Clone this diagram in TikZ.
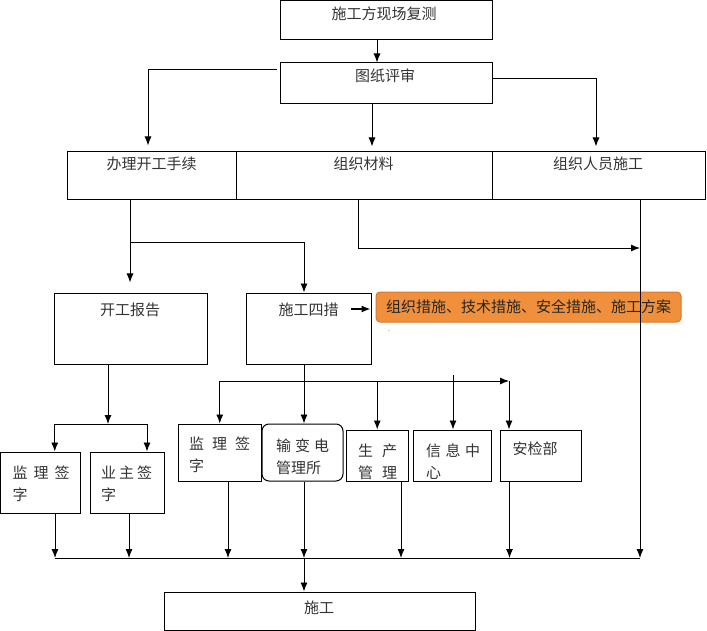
\documentclass[tikz,border=0pt]{standalone}
\usepackage{fontspec}
\newfontfamily\cjk{Noto Sans CJK SC}
\usetikzlibrary{arrows.meta}
\definecolor{cuo}{HTML}{F0903C}
\definecolor{cuoline}{HTML}{D9782A}

\begin{document}
\begin{tikzpicture}[x=1pt,y=-1pt,
    box/.style={draw, line width=1pt, inner sep=0pt},
    txt/.style={inner sep=0pt, text=black!80, font=\cjk\fontsize{15}{22}\selectfont},
    arr/.style={line width=0.9pt, -{Latex[length=9pt,width=7pt]}},
    ln/.style={line width=0.9pt}]
  \useasboundingbox (0,0) rectangle (707,631);
  % boxes
  \node[box, minimum width=212pt, minimum height=39pt] (fc) at (386,20.5) {};
  \node[box, minimum width=212pt, minimum height=41pt] (ps) at (386,83.5) {};
  \node[box, minimum width=169pt, minimum height=48pt] (bl) at (151.5,176) {};
  \node[box, minimum width=256pt, minimum height=48pt] (cl) at (364,176) {};
  \node[box, minimum width=213pt, minimum height=48pt] (ry) at (598.5,176) {};
  \node[box, minimum width=152.5pt, minimum height=71pt] (kb) at (130.75,328.5) {};
  \node[box, minimum width=125pt, minimum height=71pt] (sc) at (309,328.5) {};
  \node[box, draw=cuoline, fill=cuo, rounded corners=4pt, minimum width=305pt,
    minimum height=30pt, txt, text=black!85] (cs) at (528.5,307) {组织措施、技术措施、安全措施、施工方案};
  \node[box, minimum width=79.5pt, minimum height=61pt] (jl) at (40.25,482.5) {};
  \node[box, minimum width=74pt, minimum height=61pt] (yz) at (127,482.5) {};
  \node[box, minimum width=83.5pt, minimum height=57pt] (jl2) at (219.75,452.5) {};
  \node[box, rounded corners=7pt, minimum width=81pt, minimum height=57pt] (sb) at (302.5,452.5) {};
  \node[box, minimum width=62.5pt, minimum height=51pt] (scgl) at (377.25,455.5) {};
  \node[box, minimum width=78pt, minimum height=51pt] (xx) at (452.5,455.5) {};
  \node[box, minimum width=81pt, minimum height=51pt] (aj) at (541,455.5) {};
  \node[box, minimum width=311.5pt, minimum height=38pt] (sg) at (319.75,611) {};
  % texts
  \node[txt] (fct) at (384,14) {施工方现场复测};
  \node[txt] (pst) at (385,76) {图纸评审};
  \node[txt] (blt) at (151.5,164) {办理开工手续};
  \node[txt] (clt) at (363.5,164) {组织材料};
  \node[txt] (ryt) at (598,164) {组织人员施工};
  \node[txt] (kbt) at (130,310) {开工报告};
  \node[txt] (sct) at (308.5,310) {施工四措};
  \node[txt] (sgt) at (319,608) {施工};
  \node[txt, anchor=north west, align=left] (jlt) at (12.5,465.5) {监\hspace{6pt}理\hspace{6pt}签\\字};
  \node[txt, anchor=north west, align=left] (yzt) at (101,465.5) {业\hspace{3pt}主\hspace{3pt}签\\字};
  \node[txt, anchor=north west, align=left] (jl2t) at (189,436.5) {监\hspace{8pt}理\hspace{8pt}签\\字};
  \node[txt, anchor=north west, align=left] (sbt) at (276,438.5) {输\hspace{4pt}变\hspace{4pt}电\\管理所};
  \node[txt, anchor=north west, align=left] (scglt) at (358,443.5) {生\hspace{9pt}产\\管\hspace{9pt}理};
  \node[txt, anchor=north west, align=left] (xxt) at (426,443.5) {信\hspace{4.5pt}息\hspace{4.5pt}中\\心};
  \node[txt, anchor=north west] (ajt) at (512.5,441.5) {安检部};
  \node[inner sep=0pt, font=\fontsize{8}{8}\selectfont] (dot) at (389,331) {.};
  % junctions
  \coordinate (bj) at (130,242);
  \coordinate (cj) at (640,248);
  \coordinate (kj) at (108,424);
  \coordinate (sj) at (509,381);
  \coordinate (xj) at (453,375);
  \coordinate (d1) at (55,558);
  \coordinate (d2) at (129,558);
  \coordinate (d3) at (228,558);
  \coordinate (d4) at (304,558);
  \coordinate (d5) at (401,558);
  \coordinate (d6) at (509.5,558);
  \coordinate (busR) at (640,558);
  % connectors
  \draw[arr] ([xshift=-9pt]fc.south) -- ([xshift=-9pt]ps.north);
  \draw[arr, shorten >=6pt] ([xshift=-3pt,yshift=14.5pt]ps.west) -| ([xshift=-3.5pt]bl.north);
  \draw[arr, shorten >=5pt] ([xshift=-14pt]ps.south) -- ([xshift=8pt]cl.north);
  \draw[arr, shorten >=5pt] ([yshift=5.5pt]ps.east) -| ([xshift=-2.5pt]ry.north);
  \draw[arr, shorten >=10pt] (bl.south -| bj) -- (kb.north -| bj);
  \draw[arr] (bj) -| ([xshift=-5pt]sc.north);
  \draw[arr] ([xshift=-6pt]cl.south) |- (cj);
  \draw[arr] (ry.south -| busR) -- (busR);
  \draw[arr] (kb.south -| kj) -- (kj);
  \draw[arr] (kj) -| ([xshift=14.5pt]jl.north);
  \draw[arr] (kj) -| ([xshift=20pt]yz.north);
  \draw[arr] ([xshift=-5pt]sc.south) -- ([xshift=1.5pt]sb.north);
  \draw[arr] (jl2.north |- sj) -- (sj);
  \draw[arr] (jl2.north |- sj) -- (jl2.north);
  \draw[arr] (scgl.north |- sj) -- (scgl.north);
  \draw[arr] (xj) -- (xx.north -| xj);
  \draw[arr] (sj) -- (aj.north -| sj);
  \draw[arr, line width=1.3pt] ([xshift=-25pt,yshift=-2pt]cs.west) -- ([xshift=-5pt,yshift=-2pt]cs.west);
  \foreach \n/\d in {jl/d1, yz/d2, jl2/d3, sb/d4, scgl/d5, aj/d6}
    \draw[arr] (\n.south -| \d) -- (\d);
  \draw[ln] (d1) -- (busR);
  \draw[arr] (d4) -- (sg.north -| d4);
\end{tikzpicture}
\end{document}
